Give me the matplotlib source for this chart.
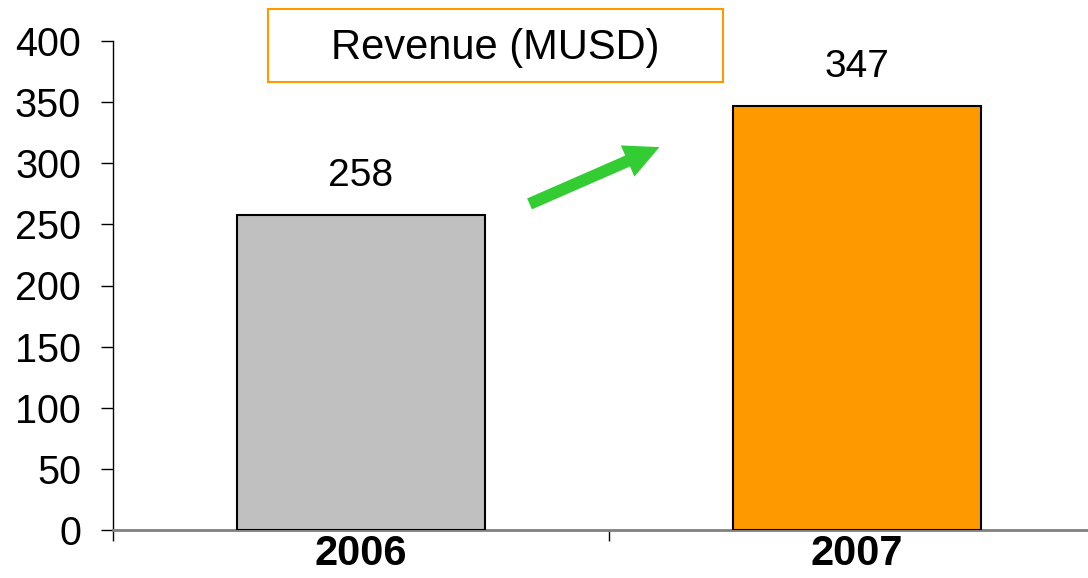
import numpy as np
import matplotlib.pyplot as plt
from matplotlib.patches import Rectangle, FancyArrowPatch

plt.rcParams['font.family'] = ['Liberation Sans', 'DejaVu Sans']

# data
years = ["2006", "2007"]
revenue = [258, 347]
bar_colors = ["#C0C0C0", "#FF9900"]
y_ticks = [0, 50, 100, 150, 200, 250, 300, 350, 400]
title = "Revenue (MUSD)"

fig = plt.figure(figsize=(10.88, 5.78), dpi=100)
ax = fig.add_axes([113 / 1088, 1 - 530 / 578, (1105 - 113) / 1088, (530 - 41) / 578])

x = np.arange(len(years))
bars = ax.bar(x, revenue, width=0.5, color=bar_colors, edgecolor="black", linewidth=1.5, zorder=3)

for b, v in zip(bars, revenue):
    ax.annotate(str(v), (b.get_x() + b.get_width() / 2, v), xytext=(0, 15),
                textcoords="offset points", ha="center", va="bottom", fontsize=28)

ax.set_xlim(-0.5, 1.5)
ax.set_ylim(0, 400)
ax.set_yticks(y_ticks)
ax.set_xticks(x)
ax.set_xticklabels(years, fontsize=30, fontweight="bold")
ax.set_xticks([-0.5, 0.5, 1.5], minor=True)
ax.tick_params(axis="x", which="major", length=0, pad=3)
ax.tick_params(axis="x", which="minor", length=8, width=1, direction="out")
ax.tick_params(axis="y", labelsize=28.5, length=9, width=1, pad=14, direction="out")

for s in ["top", "right"]:
    ax.spines[s].set_visible(False)
ax.spines["left"].set_linewidth(1)
ax.spines["bottom"].set_color("#808080")
ax.spines["bottom"].set_linewidth(2)

# title box
fig.patches.append(Rectangle((268 / 1088, 1 - 82 / 578), 455 / 1088, 73 / 578,
                             transform=fig.transFigure, facecolor="white",
                             edgecolor="#FF9900", linewidth=1.5))
fig.text(495.5 / 1088, 1 - 48 / 578, title, ha="center", va="center", fontsize=30)

# growth arrow
arrow = FancyArrowPatch((527 / 1088, 1 - 205 / 578), (662 / 1088, 1 - 146 / 578),
                        transform=fig.transFigure,
                        arrowstyle="simple,head_length=2.5,head_width=2.45,tail_width=0.86",
                        mutation_scale=10, color="#33CC33", linewidth=0)
fig.patches.append(arrow)

fig.savefig("out.png", dpi=100)
